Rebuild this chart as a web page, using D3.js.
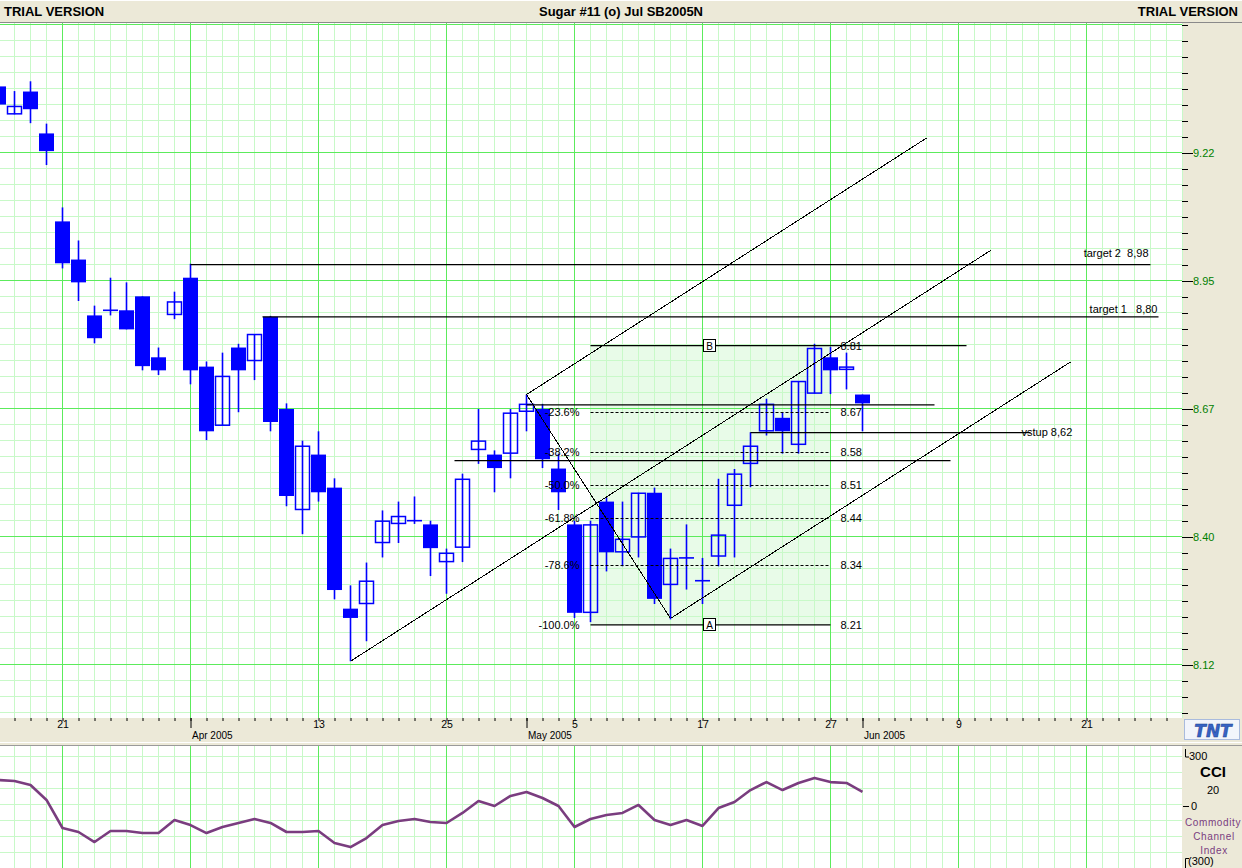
<!DOCTYPE html>
<html><head><meta charset="utf-8">
<script src="https://cdn.jsdelivr.net/npm/d3@7"></script>
<style>
body{margin:0;background:#fff;overflow:hidden;}
svg{display:block;font-family:"Liberation Sans",Arial,sans-serif;}
</style></head><body>
<svg id="c" width="1242" height="868"></svg>
<script>
// ---------------- DATA ----------------
const firstIndex = -4; // trading-day index of first candle (21 Mar 2005 = 0)
const dates = ["2005-03-15","2005-03-16","2005-03-17","2005-03-18","2005-03-21","2005-03-22","2005-03-23","2005-03-24",
"2005-03-28","2005-03-29","2005-03-30","2005-03-31","2005-04-01","2005-04-04","2005-04-05","2005-04-06","2005-04-07",
"2005-04-08","2005-04-11","2005-04-12","2005-04-13","2005-04-14","2005-04-15","2005-04-18","2005-04-19","2005-04-20",
"2005-04-21","2005-04-22","2005-04-25","2005-04-26","2005-04-27","2005-04-28","2005-04-29","2005-05-02","2005-05-03",
"2005-05-04","2005-05-05","2005-05-06","2005-05-09","2005-05-10","2005-05-11","2005-05-12","2005-05-13","2005-05-16",
"2005-05-17","2005-05-18","2005-05-19","2005-05-20","2005-05-23","2005-05-24","2005-05-25","2005-05-26","2005-05-27",
"2005-05-31","2005-06-01"];
const opens = [9.367,9.307,9.356,9.266,
 9.077,8.995,8.875,8.886,8.886,8.916,8.785,8.876,8.956,8.765,8.638,8.806,8.777,8.872,8.674,8.457,8.576,8.505,8.245,8.255,
 8.386,8.427,8.434,8.426,8.345,8.376,8.586,8.576,8.578,8.668,8.674,8.546,8.426,8.236,8.475,8.366,8.398,8.494,8.296,8.354,
 8.305,8.357,8.466,8.556,8.626,8.655,8.597,8.707,8.785,8.758,8.705];
const highs = [9.372,9.357,9.378,9.287,
 9.107,9.036,8.896,8.956,8.946,8.916,8.806,8.926,8.986,8.776,8.795,8.814,8.835,8.874,8.686,8.606,8.626,8.525,8.295,8.344,
 8.456,8.475,8.486,8.434,8.374,8.535,8.674,8.585,8.674,8.705,8.685,8.578,8.434,8.434,8.484,8.475,8.494,8.505,8.374,8.426,
 8.354,8.524,8.545,8.624,8.696,8.666,8.734,8.814,8.807,8.795,8.705];
const lows = [9.325,9.307,9.288,9.198,
 8.976,8.906,8.815,8.875,8.845,8.757,8.747,8.867,8.727,8.607,8.638,8.667,8.736,8.626,8.465,8.405,8.475,8.265,8.132,8.175,
 8.355,8.386,8.427,8.315,8.277,8.345,8.556,8.495,8.525,8.626,8.547,8.457,8.225,8.216,8.325,8.336,8.355,8.255,8.222,8.286,
 8.255,8.336,8.355,8.506,8.617,8.578,8.578,8.707,8.706,8.716,8.626];
const closes = [9.328,9.325,9.318,9.228,
 8.987,8.946,8.826,8.886,8.845,8.766,8.757,8.905,8.757,8.626,8.745,8.757,8.835,8.646,8.487,8.595,8.495,8.285,8.225,8.305,
 8.434,8.444,8.434,8.375,8.365,8.524,8.606,8.547,8.666,8.685,8.566,8.495,8.236,8.426,8.366,8.395,8.494,8.266,8.354,8.354,
 8.305,8.404,8.535,8.595,8.685,8.626,8.734,8.805,8.757,8.765,8.686];
const cciValues = [150,144,121,35,
 -127,-150,-208,-144,-144,-156,-156,-81,-110,-156,-121,-98,-75,-98,-150,-150,-144,-213,-237,-185,-110,-87,-75,-92,-98,
 -40,29,0,58,81,46,0,-121,-75,-52,-40,6,-81,-110,-81,-115,-12,23,92,138,92,133,162,138,133,81];

const priceTicks = [9.225, 8.95, 8.675, 8.40, 8.125];
const priceTickLabels = ["9.22","8.95","8.67","8.40","8.12"];
const dayTickIdx = [0,16,24,32,40,48,56,64];
const dayTickLabels = ["21","13","25","5","17","27","9","21"];
const monthTickIdx = [8,29,50];
const monthTickLabels = ["Apr 2005","May 2005","Jun 2005"];

// Fibonacci retracement (A low -> B high)
const fibA = 8.21, fibB = 8.81;
const fibStartIdx = 33, fibEndIdx = 48, fibBEndIdx = 56.5;
const fibRatios = [0.236,0.382,0.5,0.618,0.786];
const fibPctLabels = ["-23.6%","-38.2%","-50.0%","-61.8%","-78.6%"];
const fibPriceLabels = ["8.67","8.58","8.51","8.44","8.34"];

// horizontal drawn lines [price, fromIdx, toIdx]
const hLinePrices = [8.984, 8.872, 8.683, 8.563, 8.623];
const hLineFrom   = [8, 12.5, 29, 24.5, 43];
const hLineTo     = [68, 68.5, 54.5, 55.5, 60.5];
const hLineLabels = ["target 2\u00A0\u00A08,98", "target 1\u00A0\u00A0\u00A08,80", "", "", "vstup 8,62"];

// trend/channel lines [idx1, price1, idx2, price2]
const trendLines = [
  [18, 8.132, 58, 9.0145],
  [29, 8.705, 54, 9.256],
  [38, 8.224, 63, 8.775],
  [29, 8.705, 38, 8.224]
];

// ---------------- DRAW ----------------
const BEIGE = "#ECE9D8", MAJOR = "#5CEB5C", MINOR = "#C8F9C8", BLUE = "#0000FF";
const svg = d3.select("#c");
const W = 1242, H = 868, PX1 = 1182, PY0 = 23, PY1 = 718, CY0 = 746, CY1 = 868;

const x = d3.scaleLinear().domain([-4, 70]).range([-1.5, 1182.5]);
const y = d3.scaleLinear().domain([8.125, 9.225]).range([664.5, 152.5]);
const yc = d3.scaleLinear().domain([-300, 300]).range([858, 754]);

const defs = svg.append("defs");
defs.append("clipPath").attr("id","cm").append("rect").attr("x",0).attr("y",PY0).attr("width",PX1).attr("height",PY1-PY0);
defs.append("clipPath").attr("id","cc").append("rect").attr("x",0).attr("y",CY0).attr("width",PX1).attr("height",CY1-CY0);

svg.append("rect").attr("width",W).attr("height",H).attr("fill",BEIGE);

// title bar
svg.append("rect").attr("x",0).attr("y",0).attr("width",W).attr("height",22).attr("fill",BEIGE);
svg.append("line").attr("x1",0).attr("x2",W).attr("y1",0.5).attr("y2",0.5).attr("stroke","#ffffff");
svg.append("line").attr("x1",0).attr("x2",W).attr("y1",22.5).attr("y2",22.5).attr("stroke","#8a8a8a");
const tt = svg.append("g").attr("font-weight","bold").attr("font-size",13).attr("fill","#000");
tt.append("text").attr("x",4).attr("y",16).text("TRIAL VERSION");
tt.append("text").attr("x",621).attr("y",16).attr("text-anchor","middle").text("Sugar #11 (o) Jul SB2005N");
tt.append("text").attr("x",1238).attr("y",16).attr("text-anchor","end").text("TRIAL VERSION");

const allIdx = d3.range(-4, 71);
function grid(g, y0, y1, hys, hMajor) {
  g.append("g").selectAll("line").data(allIdx.filter(i => i % 8 !== 0)).join("line")
    .attr("x1", d => x(d)).attr("x2", d => x(d)).attr("y1", y0).attr("y2", y1)
    .attr("stroke", MINOR).attr("shape-rendering","crispEdges");
  g.append("g").selectAll("line").data(hys.filter((d,k) => !hMajor[k])).join("line")
    .attr("x1", 0).attr("x2", PX1).attr("y1", d => d).attr("y2", d => d)
    .attr("stroke", MINOR).attr("shape-rendering","crispEdges");
  g.append("g").selectAll("line").data(allIdx.filter(i => i % 8 === 0)).join("line")
    .attr("x1", d => x(d)).attr("x2", d => x(d)).attr("y1", y0).attr("y2", y1)
    .attr("stroke", MAJOR).attr("shape-rendering","crispEdges");
  g.append("g").selectAll("line").data(hys.filter((d,k) => hMajor[k])).join("line")
    .attr("x1", 0).attr("x2", PX1).attr("y1", d => d).attr("y2", d => d)
    .attr("stroke", MAJOR).attr("shape-rendering","crispEdges");
}

// ---- main plot ----
const gm = svg.append("g").attr("clip-path","url(#cm)");
gm.append("rect").attr("x",0).attr("y",PY0).attr("width",PX1).attr("height",PY1-PY0).attr("fill","#fff");
gm.append("rect").attr("x",x(fibStartIdx)).attr("width",x(fibEndIdx)-x(fibStartIdx))
  .attr("y",y(fibB)).attr("height",y(fibA)-y(fibB)).attr("fill","#E8FBE8");
const step = 0.275/8;
const kRange = d3.range(-3, 41);
grid(gm, PY0, PY1, kRange.map(k => y(8.125 + k*step)), kRange.map(k => k % 8 === 0));

// candles
const candles = opens.map((o,k) => ({i: k + firstIndex, date: dates[k], o, h: highs[k], l: lows[k], c: closes[k]}));
const gc = gm.append("g");
gc.selectAll("line.w").data(candles).join("line").attr("class","w")
  .attr("x1", d => x(d.i)).attr("x2", d => x(d.i)).attr("y1", d => y(d.h)).attr("y2", d => y(d.l))
  .attr("stroke", BLUE).attr("stroke-width", 1.6);
gc.selectAll("rect.b").data(candles.filter(d => Math.abs(d.o - d.c) >= 0.004)).join("rect").attr("class","b")
  .attr("x", d => d.c < d.o ? x(d.i) - 7.5 : x(d.i) - 7)
  .attr("width", d => d.c < d.o ? 15 : 14)
  .attr("y", d => y(Math.max(d.o, d.c)) + (d.c < d.o ? 0 : 0.5))
  .attr("height", d => Math.abs(y(d.o) - y(d.c)) - (d.c < d.o ? 0 : 1))
  .attr("fill", d => d.c < d.o ? BLUE : "none")
  .attr("stroke", d => d.c < d.o ? "none" : BLUE).attr("stroke-width", 1.5);
gc.selectAll("line.d").data(candles.filter(d => Math.abs(d.o - d.c) < 0.004)).join("line").attr("class","d")
  .attr("x1", d => x(d.i) - 7.5).attr("x2", d => x(d.i) + 7.5).attr("y1", d => y(d.c)).attr("y2", d => y(d.c))
  .attr("stroke", BLUE).attr("stroke-width", 1.6);

// fib lines
const ga = gm.append("g").attr("font-size", 11).attr("fill", "#000");
ga.append("line").attr("x1", x(fibStartIdx)).attr("x2", x(fibBEndIdx)).attr("y1", y(fibB)).attr("y2", y(fibB))
  .attr("stroke","#000").attr("stroke-width",1.3);
ga.append("line").attr("x1", x(fibStartIdx)).attr("x2", x(fibEndIdx)).attr("y1", y(fibA)).attr("y2", y(fibA))
  .attr("stroke","#000").attr("stroke-width",1.3);
fibRatios.forEach((r,k) => {
  const p = fibB - r*(fibB - fibA);
  ga.append("line").attr("x1", x(fibStartIdx)).attr("x2", x(fibEndIdx)).attr("y1", Math.round(y(p))+0.5).attr("y2", Math.round(y(p))+0.5)
    .attr("stroke","#000").attr("stroke-dasharray","3,2");
  ga.append("text").attr("x", x(fibStartIdx)-11).attr("y", y(p)+4).attr("text-anchor","end").text(fibPctLabels[k]);
  ga.append("text").attr("x", x(fibEndIdx)+10).attr("y", y(p)+4).text(fibPriceLabels[k]);
});
ga.append("text").attr("x", x(fibStartIdx)-11).attr("y", y(fibA)+4).attr("text-anchor","end").text("-100.0%");
ga.append("text").attr("x", x(fibEndIdx)+10).attr("y", y(fibA)+4).text(fibA.toFixed(2));
ga.append("text").attr("x", x(fibEndIdx)+10).attr("y", y(fibB)+4).text(fibB.toFixed(2));
const midIdx = (fibStartIdx + fibEndIdx)/2;
[[fibB,"B"],[fibA,"A"]].forEach(([p,t]) => {
  ga.append("rect").attr("x", Math.round(x(midIdx))-6.5).attr("y", Math.round(y(p))-6.5).attr("width",12).attr("height",12)
    .attr("fill","#fff").attr("stroke","#000");
  ga.append("text").attr("x", Math.round(x(midIdx))-0.5).attr("y", Math.round(y(p))+4).attr("text-anchor","middle")
    .attr("font-size",10).text(t);
});

// horizontal annotation lines
hLinePrices.forEach((p,k) => {
  ga.append("line").attr("x1", x(hLineFrom[k])).attr("x2", x(hLineTo[k])).attr("y1", y(p)).attr("y2", y(p))
    .attr("stroke","#000").attr("stroke-width",1.3);
});
ga.append("text").attr("x", x(hLineTo[0])-2).attr("y", y(hLinePrices[0])-8).attr("text-anchor","end").text(hLineLabels[0]);
ga.append("text").attr("x", x(hLineTo[1])-1).attr("y", y(hLinePrices[1])-4).attr("text-anchor","end").text(hLineLabels[1]);
ga.append("text").attr("x", x(hLineTo[4])-9).attr("y", y(hLinePrices[4])+3).text(hLineLabels[4]);

// channel lines
ga.selectAll("line.t").data(trendLines).join("line").attr("class","t")
  .attr("x1", d => x(d[0])).attr("y1", d => y(d[1])).attr("x2", d => x(d[2])).attr("y2", d => y(d[3]))
  .attr("stroke","#000").attr("stroke-width",1).attr("shape-rendering","crispEdges");

// ---- right price axis ----
svg.append("rect").attr("x",PX1).attr("y",PY0).attr("width",W-PX1).attr("height",PY1-PY0).attr("fill",BEIGE);
svg.append("line").attr("x1",PX1+0.5).attr("x2",PX1+0.5).attr("y1",PY0).attr("y2",PY1).attr("stroke",MINOR);
const minorPrices = kRange.map(k => 8.125 + k*step);
const axMinor = svg.append("g").attr("transform",`translate(${PX1},0)`)
  .call(d3.axisRight(y).tickValues(minorPrices).tickSize(6).tickFormat(""));
axMinor.select(".domain").remove();
axMinor.selectAll("line").attr("stroke","#000").attr("shape-rendering","crispEdges");
const axMajor = svg.append("g").attr("transform",`translate(${PX1},0)`)
  .call(d3.axisRight(y).tickValues(priceTicks).tickSize(11).tickPadding(0).tickFormat((d,k) => priceTickLabels[k]));
axMajor.select(".domain").remove();
axMajor.selectAll("line").attr("stroke","#000").attr("shape-rendering","crispEdges");
axMajor.selectAll("text").attr("fill","#008000").attr("font-size",11).attr("font-family","Liberation Sans, Arial, sans-serif");

// ---- date axis ----
svg.append("rect").attr("x",0).attr("y",PY1).attr("width",W).attr("height",24).attr("fill",BEIGE);
const dMinor = svg.append("g").attr("transform",`translate(0,${PY1})`)
  .call(d3.axisBottom(x).tickValues(allIdx.filter(i => x(i) > 0 && x(i) < PX1)).tickSize(3).tickFormat(""));
dMinor.select(".domain").remove();
dMinor.selectAll("line").attr("stroke","#000");
const dDay = svg.append("g").attr("transform",`translate(0,${PY1})`)
  .call(d3.axisBottom(x).tickValues(dayTickIdx).tickSize(0).tickPadding(3).tickFormat((d,k) => dayTickLabels[k]));
dDay.select(".domain").remove();
dDay.selectAll("text").attr("fill","#000").attr("font-size",10.5).attr("font-family","Liberation Sans, Arial, sans-serif");
const dMon = svg.append("g").attr("transform",`translate(0,${PY1})`)
  .call(d3.axisBottom(x).tickValues(monthTickIdx).tickSize(10).tickPadding(4).tickFormat((d,k) => monthTickLabels[k]));
dMon.select(".domain").remove();
dMon.selectAll("line").attr("stroke","#000");
dMon.selectAll("text").attr("text-anchor","start").attr("x",1).attr("fill","#000").attr("font-size",10)
  .attr("font-family","Liberation Sans, Arial, sans-serif");

// TNT logo
const logo = svg.append("g");
logo.append("rect").attr("x",1184.5).attr("y",719.5).attr("width",55).attr("height",20).attr("fill","#F2F5FB").attr("stroke","#A9BBDD");
logo.append("text").attr("x",1213).attr("y",737).attr("text-anchor","middle").attr("font-family","DejaVu Sans, sans-serif")
  .attr("font-weight","bold").attr("font-style","italic").attr("font-size",17).attr("fill","#3663C4")
  .attr("stroke","#1D3F8F").attr("stroke-width",0.5).text("TNT");

// separator
svg.append("rect").attr("x",0).attr("y",742).attr("width",W).attr("height",4).attr("fill",BEIGE);
svg.append("line").attr("x1",0).attr("x2",W).attr("y1",742.5).attr("y2",742.5).attr("stroke","#ffffff");
svg.append("line").attr("x1",0).attr("x2",W).attr("y1",745.5).attr("y2",745.5).attr("stroke","#9a9a9a");

// ---- CCI panel ----
const gcc = svg.append("g").attr("clip-path","url(#cc)");
gcc.append("rect").attr("x",0).attr("y",CY0).attr("width",PX1).attr("height",CY1-CY0).attr("fill","#fff");
const cciHy = d3.range(0,8).map(k => 756.5 + 16*k);
grid(gcc, CY0, CY1, cciHy, cciHy.map(() => false));
const cciData = cciValues.map((v,k) => ({i: k + firstIndex, v}));
gcc.append("path").datum(cciData)
  .attr("d", d3.line().x(d => x(d.i)).y(d => yc(d.v)))
  .attr("fill","none").attr("stroke","#7A3D7F").attr("stroke-width",2.6).attr("stroke-linejoin","round");

// CCI right panel
svg.append("rect").attr("x",PX1).attr("y",CY0).attr("width",W-PX1).attr("height",CY1-CY0).attr("fill",BEIGE);
const cr = svg.append("g").attr("font-size",11).attr("fill","#000");
cr.append("path").attr("d",`M1185.5,749V${yc(300)+3}H1189`).attr("fill","none").attr("stroke","#000");
cr.append("text").attr("x",1189).attr("y",yc(300)+6).text("300");
cr.append("text").attr("x",1213).attr("y",777).attr("text-anchor","middle").attr("font-weight","bold").attr("font-size",15).text("CCI");
cr.append("text").attr("x",1213).attr("y",794).attr("text-anchor","middle").text("20");
cr.append("line").attr("x1",1183).attr("x2",1189).attr("y1",Math.round(yc(0))+0.5).attr("y2",Math.round(yc(0))+0.5).attr("stroke","#000");
cr.append("text").attr("x",1191).attr("y",yc(0)+4).text("0");
const cp = cr.append("g").attr("fill","#7A3D7F").attr("font-size",10).attr("text-anchor","middle").attr("letter-spacing",0.6);
cp.append("text").attr("x",1213).attr("y",826).text("Commodity");
cp.append("text").attr("x",1214).attr("y",840).text("Channel");
cp.append("text").attr("x",1214).attr("y",854).text("Index");
cr.append("path").attr("d",`M1185.5,868V${yc(-300)+0.5}H1189`).attr("fill","none").attr("stroke","#000");
cr.append("text").attr("x",1188).attr("y",yc(-300)+7).text("(300)");
</script>
</body></html>
